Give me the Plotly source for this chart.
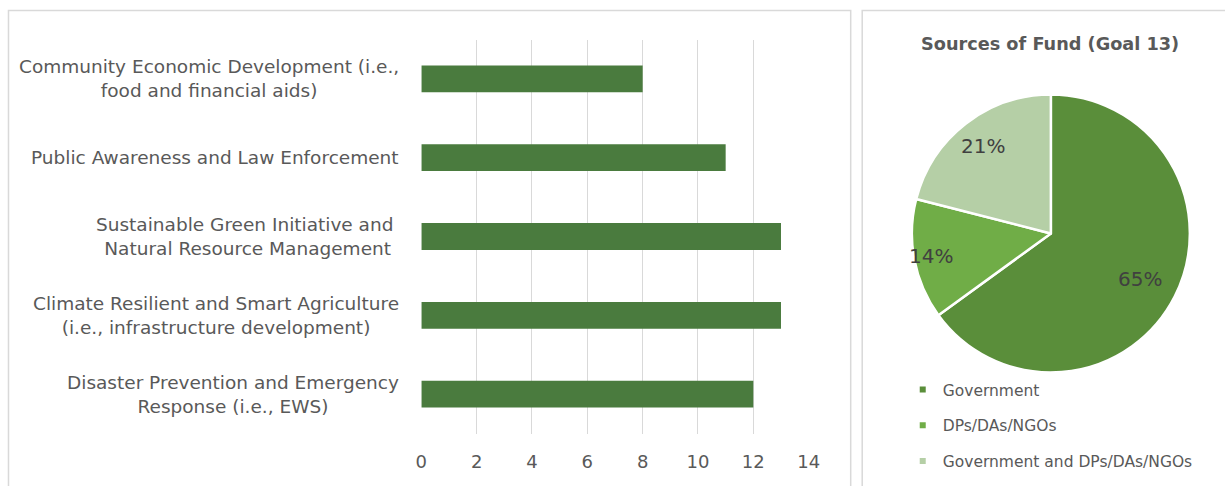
import math
import plotly.graph_objects as go

# Bar chart: number of interventions by area (top to bottom)
categories = [
    "Community Economic Development (i.e.,<br>food and financial aids)",
    "Public Awareness and Law Enforcement",
    "Sustainable Green Initiative and <br>Natural Resource Management",
    "Climate Resilient and Smart Agriculture<br>(i.e., infrastructure development)",
    "Disaster Prevention and Emergency<br>Response (i.e., EWS)",
]
counts = [8, 11, 13, 13, 12]
x_ticks = [0, 2, 4, 6, 8, 10, 12, 14]

# Pie chart: sources of fund
fund_sources = ["Government", "DPs/DAs/NGOs", "Government and DPs/DAs/NGOs"]
fund_shares = [65, 14, 21]
pie_title = "Sources of Fund (Goal 13)"

FONT = "Century Gothic, 'DejaVu Sans', sans-serif"
TEXT = "#595959"
GRID = "#D9D9D9"
BAR_COLOR = "#4A7B3E"
PIE_COLORS = ["#5A8E3A", "#70AD47", "#B5CFA6"]
# radial placement of each percentage label, as a fraction of the pie radius
LABEL_RADIUS = [0.72, 0.88, 0.80]

W, H = 1225, 486
# horizontal calibration of the displayed page (offset, scale)
X_OFF, X_SCALE = 7.0, 0.9853


def px_x(p):
    """Paper fraction for a horizontal position given in page pixels."""
    return ((p - X_OFF) / X_SCALE + 1) / W


def px_y(p):
    """Paper fraction for a vertical position given in page pixels."""
    return 1 - p / H


# pie geometry (page pixels)
PIE_CX, PIE_CY, PIE_R = 1050, 233.5, 139

fig = go.Figure()

fig.add_trace(go.Bar(
    x=counts,
    y=categories,
    orientation="h",
    marker=dict(color=BAR_COLOR, line=dict(width=0)),
    showlegend=False,
    hoverinfo="x+y",
))

fig.add_trace(go.Pie(
    labels=fund_sources,
    values=fund_shares,
    sort=False,
    direction="clockwise",
    rotation=0,
    marker=dict(colors=PIE_COLORS, line=dict(color="white", width=2.5)),
    textinfo="none",
    domain=dict(x=[px_x(PIE_CX - PIE_R - 2), px_x(PIE_CX + PIE_R + 2)],
                y=[px_y(PIE_CY + PIE_R), px_y(PIE_CY - PIE_R)]),
    showlegend=False,
))

# Percentage labels placed along each slice's mid-angle
total = sum(fund_shares)
cum = 0
for share, rf in zip(fund_shares, LABEL_RADIUS):
    mid = (cum + share / 2) / total * 2 * math.pi
    cum += share
    lx = PIE_CX + rf * PIE_R * math.sin(mid)
    ly = PIE_CY - rf * PIE_R * math.cos(mid)
    fig.add_annotation(
        x=px_x(lx), y=px_y(ly), xref="paper", yref="paper",
        text=f"{round(100 * share / total)}%",
        showarrow=False, xanchor="center", yanchor="middle",
        font=dict(family=FONT, size=20, color="#404040"),
    )

# Legend entries for the pie slices, one group each so they can be spaced apart
for name, color in zip(fund_sources, PIE_COLORS):
    fig.add_trace(go.Scatter(
        x=[None], y=[None],
        mode="markers",
        marker=dict(symbol="square", size=6, color=color),
        name=name,
        legendgroup=name,
        showlegend=True,
        xaxis="x2", yaxis="y2",
    ))

# Category labels, centred line-by-line and right-aligned next to the axis
for cat in categories:
    fig.add_annotation(
        x=px_x(401), xref="paper",
        y=cat, yref="y",
        text=cat,
        showarrow=False,
        xanchor="right",
        align="center",
        font=dict(family=FONT, size=18.5, color=TEXT),
    )

fig.add_annotation(
    x=px_x(1049), xref="paper",
    y=px_y(44), yref="paper",
    text="<b>" + pie_title + "</b>",
    showarrow=False,
    xanchor="center", yanchor="middle",
    font=dict(family=FONT, size=17.7, color=TEXT),
)

# Panel frames
fig.add_shape(type="rect", xref="paper", yref="paper",
              x0=px_x(8.5), x1=px_x(850), y0=px_y(496), y1=px_y(10.5),
              line=dict(color=GRID, width=1.5), fillcolor="rgba(0,0,0,0)")
fig.add_shape(type="rect", xref="paper", yref="paper",
              x0=px_x(861.5), x1=px_x(1240), y0=px_y(496), y1=px_y(10.5),
              line=dict(color=GRID, width=1.5), fillcolor="rgba(0,0,0,0)")

fig.update_layout(
    width=W, height=H,
    margin=dict(l=0, r=0, t=0, b=0),
    paper_bgcolor="white",
    plot_bgcolor="white",
    font=dict(family=FONT, color=TEXT),
    bargap=0.66,
    xaxis=dict(
        domain=[px_x(421), px_x(808)],
        range=[0, 14],
        tickvals=x_ticks,
        showgrid=True, gridcolor=GRID, gridwidth=1,
        zeroline=False,
        showline=False,
        ticks="outside", ticklen=0,
        ticklabelstandoff=12,
        tickfont=dict(family=FONT, size=18, color=TEXT),
        fixedrange=True,
    ),
    yaxis=dict(
        domain=[px_y(433.5), px_y(39.5)],
        autorange="reversed",
        showticklabels=False,
        showgrid=False, zeroline=False, showline=False,
        fixedrange=True,
    ),
    xaxis2=dict(visible=False, domain=[0.99, 1.0], anchor="y2"),
    yaxis2=dict(visible=False, domain=[0.0, 0.01], anchor="x2"),
    legend=dict(
        x=px_x(902), y=px_y(373),
        xanchor="left", yanchor="top",
        orientation="v",
        tracegroupgap=12.5,
        font=dict(family=FONT, size=15.5, color=TEXT),
        bgcolor="rgba(0,0,0,0)",
        itemclick=False, itemdoubleclick=False,
    ),
)

fig.write_html("out.html", config={"displayModeBar": False})
